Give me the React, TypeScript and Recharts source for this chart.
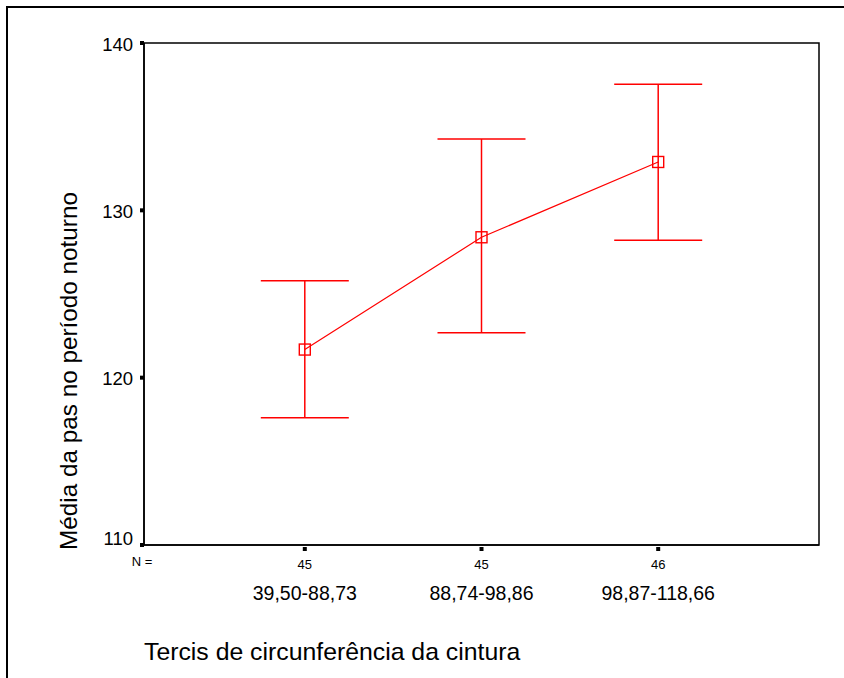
import React from 'react';
import { ComposedChart, Line, XAxis, YAxis, ErrorBar, ReferenceArea } from 'recharts';

const categories = ['39,50-88,73', '88,74-98,86', '98,87-118,66'];
const nCounts = [45, 45, 46];
const means = [121.68, 128.39, 132.89];
const upper = [125.79, 134.26, 137.53];
const lower = [117.6, 122.68, 128.21];
const yTicks = [110, 120, 130, 140];
const xPositions = [1, 2, 3];

const yTitle = 'Média da pas no período noturno';
const xTitle = 'Tercis de circunferência da cintura';

const FONT = '"Liberation Sans", Arial, sans-serif';
const RED = '#ff0000';

const data = categories.map((c, i) => ({
  x: xPositions[i],
  name: c,
  n: nCounts[i],
  mean: means[i],
  err: [means[i] - lower[i], upper[i] - means[i]],
}));

const SquareDot = (props: any) => {
  const { cx, cy } = props;
  if (cx == null || cy == null) return null;
  return <rect x={cx - 5.5} y={cy - 5.5} width={11} height={11} fill="none" stroke={RED} strokeWidth={1.4} />;
};

const XTick = (props: any) => {
  const { x, y, payload } = props;
  const idx = xPositions.indexOf(payload.value);
  if (idx < 0) return null;
  return (
    <g>
      <rect x={x - 2} y={y - 2} width={4} height={4} fill="#000" />
      <text x={x} y={y + 20} textAnchor="middle" fontSize={13} fontFamily={FONT} fill="#000">
        {nCounts[idx]}
      </text>
      <text x={x} y={y + 51} textAnchor="middle" fontSize={19.5} fontFamily={FONT} fill="#000">
        {categories[idx]}
      </text>
    </g>
  );
};

const YTick = (props: any) => {
  const { x, y, payload } = props;
  return (
    <g>
      <rect x={x + 7} y={y - 2} width={4} height={4} fill="#000" />
      <text
        x={x}
        y={y + (payload.value === 110 ? -7 : 1)}
        textAnchor="end"
        dominantBaseline="central"
        fontSize={18.5}
        fontFamily={FONT}
        fill="#000"
      >
        {payload.value}
      </text>
    </g>
  );
};

const XLabel = (props: any) => {
  const vb = props.viewBox || {};
  return (
    <g>
      <text x={vb.x - 2} y={vb.y + 21} textAnchor="middle" fontSize={13} fontFamily={FONT} fill="#000">
        N =
      </text>
      <text x={vb.x} y={vb.y + 115} textAnchor="start" fontSize={24.8} fontFamily={FONT} fill="#000">
        {xTitle}
      </text>
    </g>
  );
};

const YLabel = (props: any) => {
  const vb = props.viewBox || {};
  const cx = vb.x + vb.width - 76;
  const cy = vb.y + vb.height / 2 + 77;
  return (
    <text
      x={cx}
      y={cy}
      transform={`rotate(-90 ${cx} ${cy})`}
      textAnchor="middle"
      dominantBaseline="central"
      fontSize={24.3}
      fontFamily={FONT}
      fill="#000"
    >
      {yTitle}
    </text>
  );
};

export default function App() {
  return (
    <div style={{ position: 'absolute', left: 0, top: 0, width: 844, height: 678, overflow: 'hidden', background: '#fff' }}>
      <div
        style={{
          position: 'absolute',
          left: 6,
          top: 6,
          width: 838,
          height: 672,
          boxSizing: 'border-box',
          borderLeft: '2px solid #000',
          borderTop: '2px solid #000',
        }}
      />
      <div style={{ position: 'absolute', left: 0, top: 0 }}>
        <ComposedChart
          width={844}
          height={678}
          data={data}
          margin={{ top: 43, right: 25, bottom: 93, left: 84 }}
        >
          <XAxis
            dataKey="x"
            type="number"
            domain={[0.09, 3.91]}
            ticks={xPositions}
            height={40}
            axisLine={{ stroke: '#000', strokeWidth: 1.5 }}
            tickLine={false}
            tickSize={4}
            tickMargin={0}
            tick={<XTick />}
            interval={0}
            allowDataOverflow
            label={<XLabel />}
          />
          <YAxis
            type="number"
            domain={[110, 140]}
            ticks={yTicks}
            width={60}
            axisLine={{ stroke: '#000', strokeWidth: 1.5 }}
            tickLine={false}
            tickSize={4}
            tickMargin={7}
            tick={<YTick />}
            interval={0}
            allowDataOverflow
            label={<YLabel />}
          />
          <ReferenceArea
            x1={0.09}
            x2={3.91}
            y1={110}
            y2={140}
            fill="none"
            stroke="#000"
            strokeWidth={1.5}
            ifOverflow="visible"
          />
          <Line
            dataKey="mean"
            type="linear"
            stroke={RED}
            strokeWidth={1.2}
            dot={<SquareDot />}
            activeDot={false}
            isAnimationActive={false}
          >
            <ErrorBar dataKey="err" direction="y" width={44} stroke={RED} strokeWidth={1.5} isAnimationActive={false} />
          </Line>
        </ComposedChart>
      </div>
    </div>
  );
}
